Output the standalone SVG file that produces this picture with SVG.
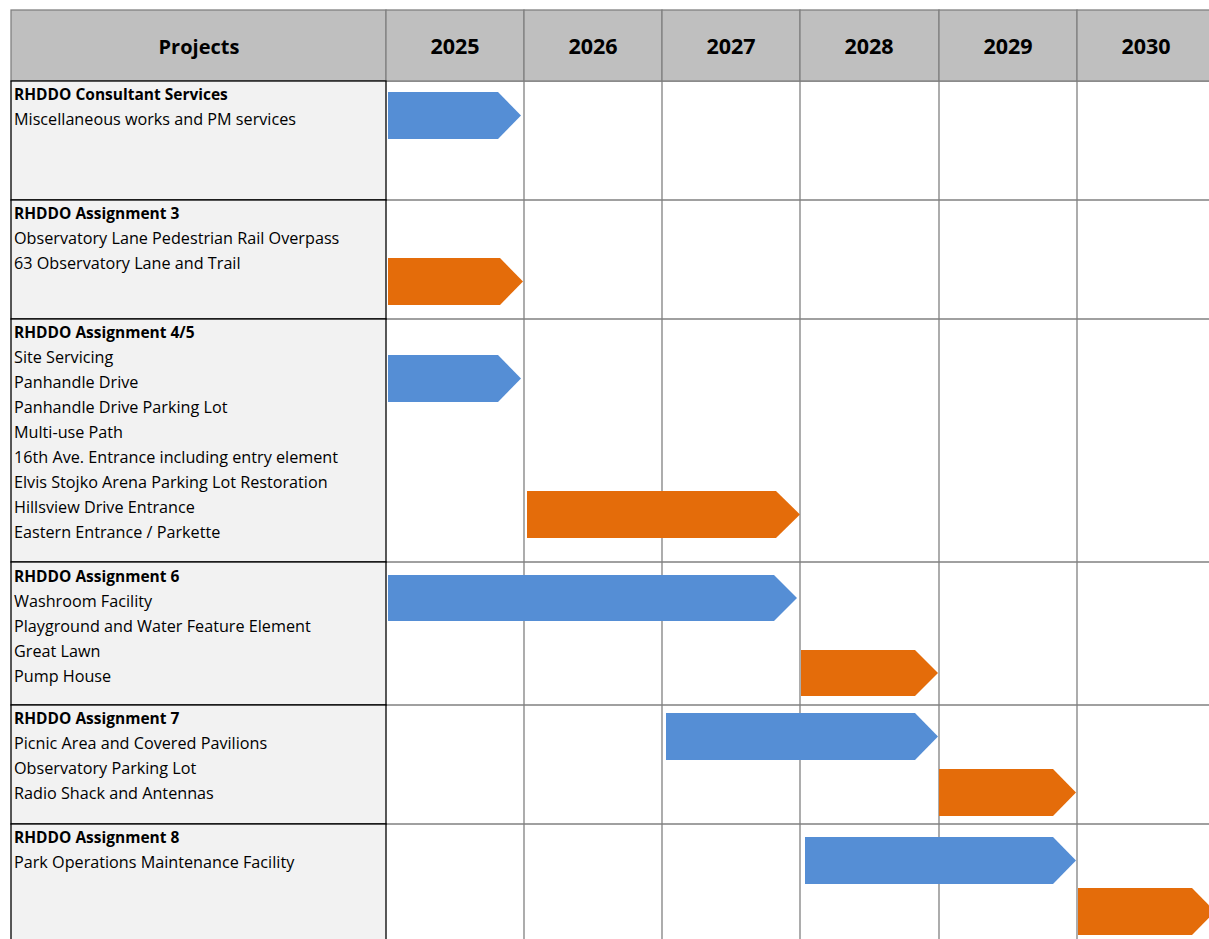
<svg xmlns="http://www.w3.org/2000/svg" width="1209" height="939" viewBox="0 0 1209 939">
<style>
.hdr{fill:#bfbfbf;stroke:#808080;stroke-width:1.3}
.lc{fill:#f2f2f2;stroke:#000;stroke-width:1.3}
.grid{stroke:#808080;stroke-width:1.3;fill:none}
.ht{font-family:"Open Sans","Liberation Sans",sans-serif;font-weight:bold;font-size:20px;fill:#000;text-anchor:middle}
.yr{font-size:21.5px}
.t{font-family:"Open Sans","Liberation Sans",sans-serif;font-size:16.2px;fill:#000}
.b{font-weight:bold;font-size:15.5px}
.blue{fill:#558ed5}
.orange{fill:#e46c0a}
</style>
<rect width="1209" height="939" fill="#fff"/>
<g id="grid" class="grid">
<line x1="386" y1="81" x2="1209" y2="81"/>
<line x1="386" y1="200" x2="1209" y2="200"/>
<line x1="386" y1="319" x2="1209" y2="319"/>
<line x1="386" y1="562" x2="1209" y2="562"/>
<line x1="386" y1="705" x2="1209" y2="705"/>
<line x1="386" y1="824" x2="1209" y2="824"/>
<line x1="524" y1="81" x2="524" y2="939"/>
<line x1="662" y1="81" x2="662" y2="939"/>
<line x1="800" y1="81" x2="800" y2="939"/>
<line x1="939" y1="81" x2="939" y2="939"/>
<line x1="1077" y1="81" x2="1077" y2="939"/>
</g>
<g id="header">
<rect class="hdr" x="11" y="10" width="375" height="71"/>
<rect class="hdr" x="386" y="10" width="138" height="71"/>
<rect class="hdr" x="524" y="10" width="138" height="71"/>
<rect class="hdr" x="662" y="10" width="138" height="71"/>
<rect class="hdr" x="800" y="10" width="139" height="71"/>
<rect class="hdr" x="939" y="10" width="138" height="71"/>
<rect class="hdr" x="1077" y="10" width="140" height="71"/>
<text class="ht" x="199" y="54">Projects</text>
<text class="ht yr" x="455" y="54">2025</text>
<text class="ht yr" x="593" y="54">2026</text>
<text class="ht yr" x="731" y="54">2027</text>
<text class="ht yr" x="869" y="54">2028</text>
<text class="ht yr" x="1008" y="54">2029</text>
<text class="ht yr" x="1146" y="54">2030</text>
</g>
<g id="row1">
<rect class="lc" x="11" y="81" width="375" height="119"/>
<text class="t b" x="14" y="100">RHDDO Consultant Services</text>
<text class="t" x="14" y="125">Miscellaneous works and PM services</text>
</g>
<g id="row2">
<rect class="lc" x="11" y="200" width="375" height="119"/>
<text class="t b" x="14" y="219">RHDDO Assignment 3</text>
<text class="t" x="14" y="244">Observatory Lane Pedestrian Rail Overpass</text>
<text class="t" x="14" y="269">63 Observatory Lane and Trail</text>
</g>
<g id="row3">
<rect class="lc" x="11" y="319" width="375" height="243"/>
<text class="t b" x="14" y="338">RHDDO Assignment 4/5</text>
<text class="t" x="14" y="363">Site Servicing</text>
<text class="t" x="14" y="388">Panhandle Drive</text>
<text class="t" x="14" y="413">Panhandle Drive Parking Lot</text>
<text class="t" x="14" y="438">Multi-use Path</text>
<text class="t" x="14" y="463">16th Ave. Entrance including entry element</text>
<text class="t" x="14" y="488">Elvis Stojko Arena Parking Lot Restoration</text>
<text class="t" x="14" y="513">Hillsview Drive Entrance</text>
<text class="t" x="14" y="538">Eastern Entrance / Parkette</text>
</g>
<g id="row4">
<rect class="lc" x="11" y="562" width="375" height="143"/>
<text class="t b" x="14" y="582">RHDDO Assignment 6</text>
<text class="t" x="14" y="607">Washroom Facility</text>
<text class="t" x="14" y="632">Playground and Water Feature Element</text>
<text class="t" x="14" y="657">Great Lawn</text>
<text class="t" x="14" y="682">Pump House</text>
</g>
<g id="row5">
<rect class="lc" x="11" y="705" width="375" height="119"/>
<text class="t b" x="14" y="724">RHDDO Assignment 7</text>
<text class="t" x="14" y="749">Picnic Area and Covered Pavilions</text>
<text class="t" x="14" y="774">Observatory Parking Lot</text>
<text class="t" x="14" y="799">Radio Shack and Antennas</text>
</g>
<g id="row6">
<rect class="lc" x="11" y="824" width="375" height="125"/>
<text class="t b" x="14" y="843">RHDDO Assignment 8</text>
<text class="t" x="14" y="868">Park Operations Maintenance Facility</text>
</g>
<g id="bars">
<polygon id="bar1" class="blue" points="388,92 498,92 521,115.5 498,139 388,139"/>
<polygon id="bar2" class="orange" points="388,258 500,258 523,281.5 500,305 388,305"/>
<polygon id="bar3" class="blue" points="388,355 498,355 521,378.5 498,402 388,402"/>
<polygon id="bar4" class="orange" points="527,491 776,491 800,514.5 776,538 527,538"/>
<polygon id="bar5" class="blue" points="388,575 774,575 797,598 774,621 388,621"/>
<polygon id="bar6" class="orange" points="801,650 915,650 938,673 915,696 801,696"/>
<polygon id="bar7" class="blue" points="666,713 915,713 938,736.5 915,760 666,760"/>
<polygon id="bar8" class="orange" points="939,769 1053,769 1076,792.5 1053,816 939,816"/>
<polygon id="bar9" class="blue" points="805,837 1053,837 1076,860.5 1053,884 805,884"/>
<polygon id="bar10" class="orange" points="1078,888 1192,888 1215,911.5 1192,935 1078,935"/>
</g>
</svg>
